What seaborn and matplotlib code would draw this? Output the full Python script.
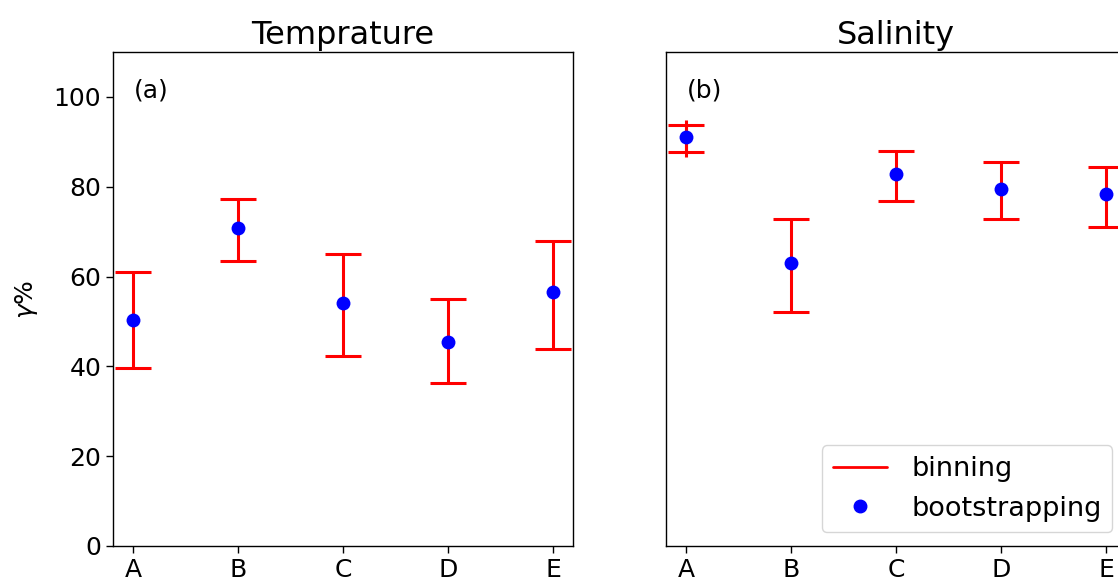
import matplotlib
matplotlib.use("Agg")
import matplotlib.pyplot as plt
import seaborn as sns
import numpy as np
import pandas as pd
from matplotlib.lines import Line2D

sns.set_style("ticks")
plt.rcParams['font.family'] = ['DejaVu Sans']
plt.rcParams.update({
    'text.color': 'black', 'axes.labelcolor': 'black',
    'xtick.color': 'black', 'ytick.color': 'black',
    'axes.edgecolor': 'black',
})

categories = ["A", "B", "C", "D", "E"]

# Temperature panel
temp_center = [50.4, 70.7, 54.1, 45.4, 56.6]
temp_upper = [61.0, 77.3, 65.0, 55.0, 67.9]
temp_lower = [39.6, 63.5, 42.4, 36.3, 43.9]
temp_boot_upper = [52.0, 72.0, 55.5, 46.5, 58.0]
temp_boot_lower = [49.0, 69.5, 52.7, 44.3, 55.2]

# Salinity panel
sal_center = [91.1, 63.0, 82.9, 79.5, 78.4]
sal_upper = [93.8, 72.8, 88.0, 85.5, 84.4]
sal_lower = [87.8, 52.0, 76.8, 72.8, 71.0]
sal_boot_upper = [94.9, 64.0, 84.0, 80.5, 79.5]
sal_boot_lower = [86.7, 62.0, 81.8, 78.5, 77.3]

titles = ["Temprature", "Salinity"]
panel_labels = ["(a)", "(b)"]

fig = plt.figure(figsize=(11.18, 5.83), dpi=100)
ax1 = fig.add_axes([0.1011, 0.0635, 0.4114, 0.8473])
ax2 = fig.add_axes([0.5957, 0.0635, 0.4114, 0.8473])

panels = [
    (ax1, temp_center, temp_upper, temp_lower, temp_boot_upper, temp_boot_lower),
    (ax2, sal_center, sal_upper, sal_lower, sal_boot_upper, sal_boot_lower),
]

for i, (ax, c, up, lo, bup, blo) in enumerate(panels):
    x = np.arange(len(categories))
    c = np.array(c); up = np.array(up); lo = np.array(lo)
    bup = np.array(bup); blo = np.array(blo)
    ax.errorbar(x, c, yerr=[c - blo, bup - c], fmt='none', ecolor='red',
                elinewidth=2.2, capsize=0, zorder=2)
    ax.errorbar(x, c, yerr=[c - lo, up - c], fmt='none', ecolor='red',
                elinewidth=2.2, capsize=13, capthick=2.2, zorder=2)
    df = pd.DataFrame({"x": x, "y": c})
    sns.scatterplot(data=df, x="x", y="y", ax=ax, color='blue', s=100,
                    edgecolor='blue', linewidth=0, zorder=3)
    ax.set_xlim(-0.19, 4.19)
    ax.set_ylim(0, 110)
    ax.set_xticks(x)
    ax.set_xticklabels(categories, fontsize=18)
    ax.set_xlabel("")
    ax.set_title(titles[i], fontsize=23)
    ax.text(0.045, 0.908, panel_labels[i], transform=ax.transAxes, fontsize=18)
    for sp in ax.spines.values():
        sp.set_visible(True)
        sp.set_linewidth(1.0)
    ax.tick_params(direction='out', length=5, width=1)

ax1.set_yticks([0, 20, 40, 60, 80, 100])
ax1.tick_params(axis='y', labelsize=18)
ax1.set_ylabel(r"$\gamma$%", fontsize=18, labelpad=10)
ax2.set_yticks([])
ax2.set_ylabel("")

handles = [Line2D([0], [0], color='red', lw=2),
           Line2D([0], [0], color='blue', marker='o', linestyle='none', markersize=9)]
ax2.legend(handles, ["binning", "bootstrapping"], loc='lower right', fontsize=19.5,
           frameon=True, handletextpad=0.9)

fig.savefig("out.png", dpi=100)
